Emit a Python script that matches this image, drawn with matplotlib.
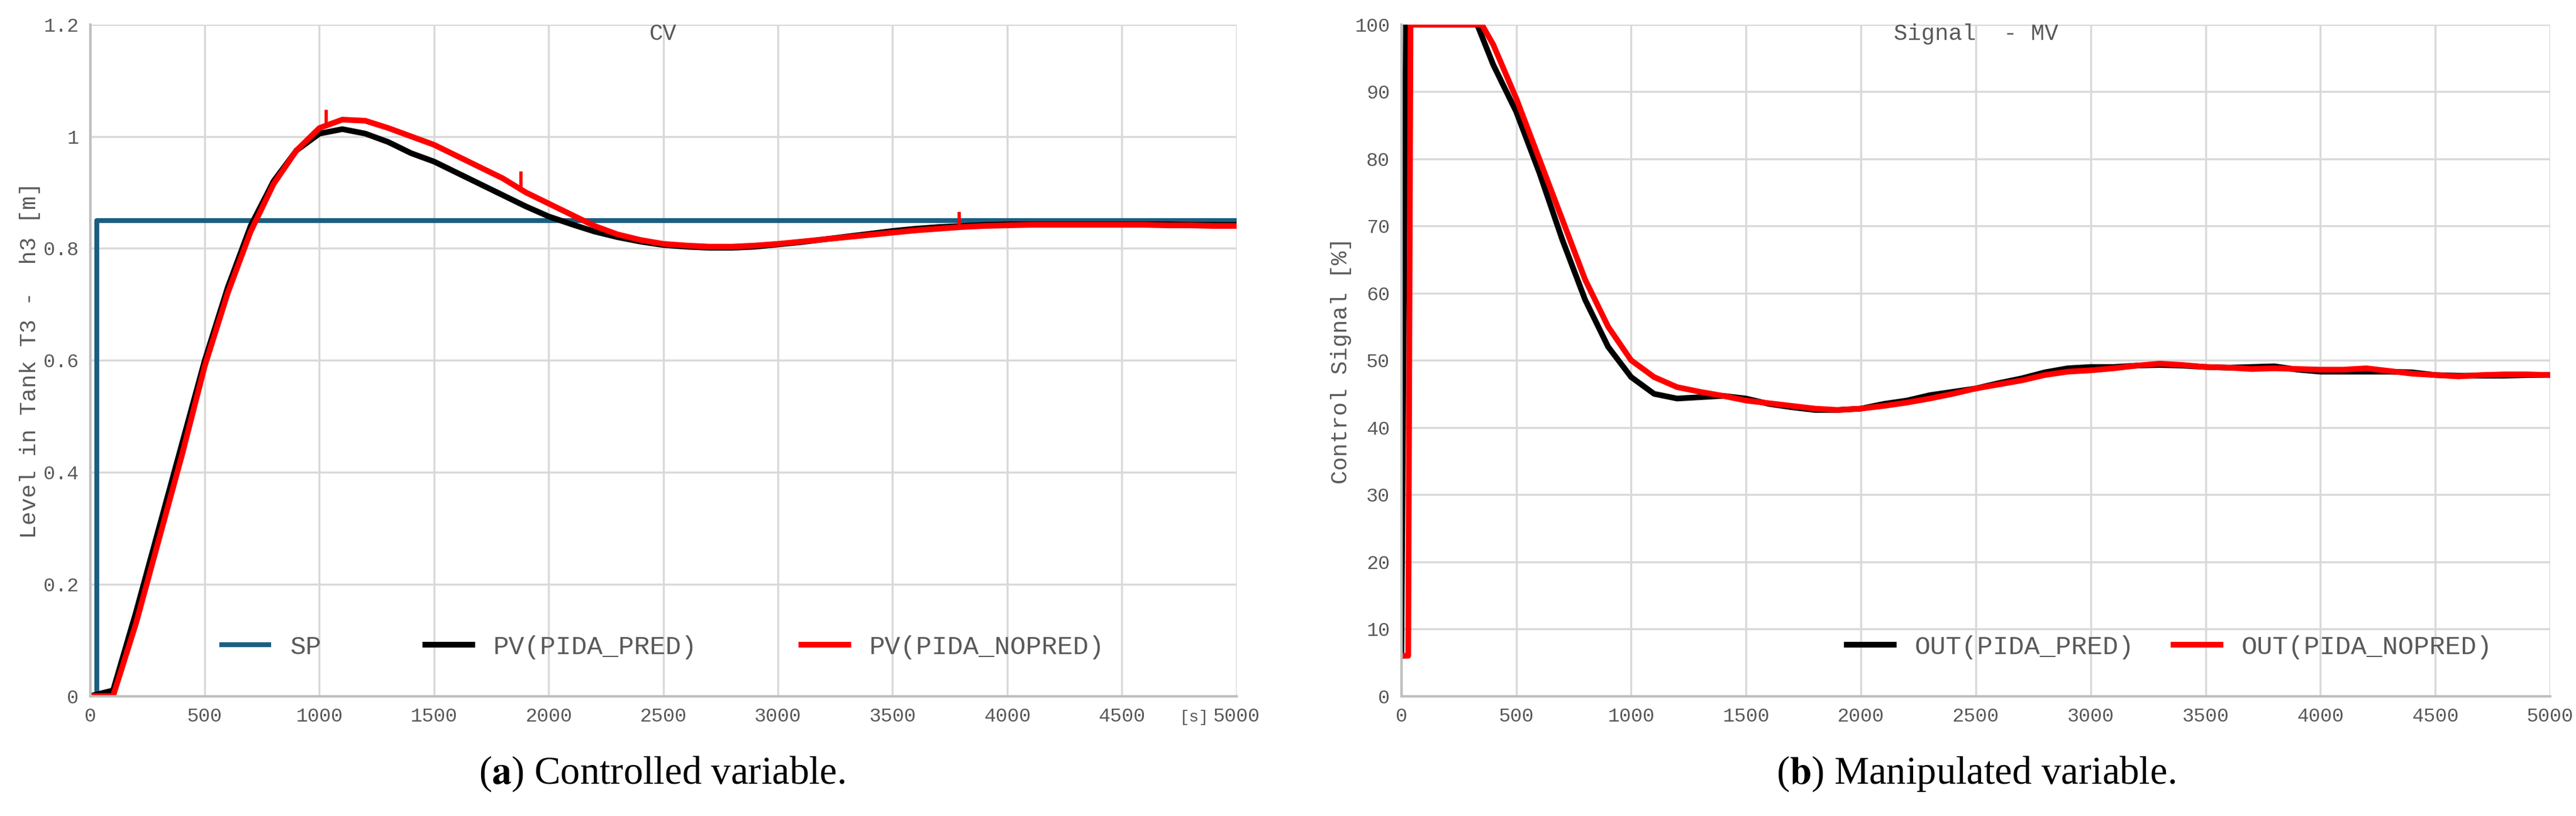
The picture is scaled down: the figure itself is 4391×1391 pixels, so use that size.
import matplotlib.pyplot as plt
import numpy as np

# time axis [s]
t = list(range(0, 5001, 100))

sp_t = [0, 30, 30, 5000]
sp_v = [0, 0, 0.85, 0.85]

pv_pred = [0.0, 0.01, 0.15, 0.30, 0.45, 0.60, 0.73, 0.84, 0.92, 0.975, 1.005, 1.013, 1.005, 0.99, 0.97,
           0.955, 0.935, 0.915, 0.895, 0.875, 0.857, 0.843, 0.830, 0.820, 0.812, 0.806, 0.803, 0.801, 0.801,
           0.803, 0.807, 0.811, 0.816, 0.821, 0.826, 0.831, 0.835, 0.838, 0.840, 0.842, 0.843, 0.843, 0.843,
           0.843, 0.843, 0.843, 0.843, 0.843, 0.842, 0.842, 0.842]
pv_nopred = [0.0, 0.0, 0.13, 0.28, 0.43, 0.59, 0.72, 0.83, 0.915, 0.975, 1.015, 1.03, 1.028, 1.015, 1.0,
             0.985, 0.965, 0.945, 0.925, 0.90, 0.88, 0.86, 0.84, 0.825, 0.815, 0.808, 0.805, 0.803, 0.803,
             0.805, 0.808, 0.812, 0.816, 0.82, 0.824, 0.828, 0.832, 0.835, 0.838, 0.840, 0.841, 0.842, 0.842,
             0.842, 0.842, 0.842, 0.842, 0.841, 0.841, 0.840, 0.840]
# spikes in the red trace
spike_t = [1030, 1880, 3790]
spike_v = [1.045, 0.935, 0.862]

mv_t = [0, 20, 30, 330] + list(range(400, 5001, 100))
mv_pred = [6, 100, 100, 100, 94, 87, 78, 68, 59, 52, 47.5, 45, 44.3, 44.5, 44.7, 44.3, 43.5, 43, 42.6, 42.6,
           42.8, 43.5, 44, 44.8, 45.3, 45.8, 46.6, 47.3, 48.2, 48.8, 49, 49, 49.2, 49.3, 49.2, 49, 48.9, 49,
           49.1, 48.6, 48.3, 48.3, 48.3, 48.3, 48.2, 47.8, 47.7, 47.7, 47.7, 47.8, 47.8]
mv_t2 = [0, 30, 40, 350] + list(range(400, 5001, 100))
mv_nopred = [6, 6, 100, 100, 97, 89, 80, 71, 62, 55, 50, 47.5, 46, 45.3, 44.7, 44, 43.6, 43.2, 42.8, 42.6,
             42.8, 43.2, 43.7, 44.3, 45, 45.8, 46.4, 47, 47.8, 48.3, 48.5, 48.8, 49.2, 49.5, 49.3, 49, 48.9,
             48.7, 48.8, 48.7, 48.6, 48.6, 48.8, 48.4, 48, 47.8, 47.6, 47.8, 47.9, 47.9, 47.8]

plt.rcParams['mathtext.fontset'] = 'stix'
mono = 'Liberation Mono'
gray = '#595959'
fig = plt.figure(figsize=(43.91, 13.91), dpi=100)
ax1 = fig.add_axes([0.035, 0.147, 0.445, 0.823])
ax2 = fig.add_axes([0.544, 0.147, 0.446, 0.823])

def style(ax, ylim, yticks):
    ax.set_xlim(0, 5000)
    ax.set_ylim(*ylim)
    ax.set_xticks(range(0, 5001, 500))
    ax.set_yticks(yticks)
    ax.grid(True, color='#d9d9d9', lw=2.5)
    ax.set_axisbelow(True)
    for s in ['top', 'right']:
        ax.spines[s].set_visible(False)
    for s in ['left', 'bottom']:
        ax.spines[s].set_color('#bfbfbf')
        ax.spines[s].set_linewidth(3)
    ax.tick_params(length=0, labelsize=24, labelcolor=gray, pad=14)
    for lb in ax.get_xticklabels() + ax.get_yticklabels():
        lb.set_family(mono)

style(ax1, (0, 1.2), [0, 0.2, 0.4, 0.6, 0.8, 1, 1.2])
ax1.set_yticklabels(['0', '0.2', '0.4', '0.6', '0.8', '1', '1.2'], family=mono)
ax1.plot(sp_t, sp_v, color='#1b5e80', lw=6, label='SP')
ax1.plot(t, pv_pred, color='black', lw=7, label='PV(PIDA_PRED)')
ax1.plot(t, pv_nopred, color='red', lw=7, label='PV(PIDA_NOPRED)')
for st, sv in zip(spike_t, spike_v):
    ax1.plot([st, st], [np.interp(st, t, pv_nopred), sv], color='red', lw=4)
ax1.set_ylabel('Level in Tank T3 -  h3 [m]', family=mono, fontsize=28, color=gray)
ax1.set_title('CV', family=mono, fontsize=28, color=gray, y=0.97)
ax1.text(4880, -0.025, '[s]', family=mono, fontsize=20, color=gray, ha='right', va='top')
ax1.legend(loc='lower center', bbox_to_anchor=(0.5, 0.02), ncol=3, frameon=False,
           prop={'family': mono, 'size': 32}, labelcolor=gray, columnspacing=4, handlelength=1.8)

style(ax2, (0, 100), range(0, 101, 10))
ax2.plot(mv_t, mv_pred, color='black', lw=7, label='OUT(PIDA_PRED)')
ax2.plot(mv_t2, mv_nopred, color='red', lw=7, label='OUT(PIDA_NOPRED)')
ax2.set_ylabel('Control Signal [%]', family=mono, fontsize=28, color=gray)
ax2.set_title('Signal  - MV', family=mono, fontsize=28, color=gray, y=0.97)
ax2.legend(loc='lower right', bbox_to_anchor=(0.97, 0.02), ncol=2, frameon=False,
           prop={'family': mono, 'size': 32}, labelcolor=gray, columnspacing=1.5, handlelength=1.8)

fig.text(0.257, 0.04, r'($\mathbf{a}$) Controlled variable.', family='Liberation Serif', fontsize=48, ha='center')
fig.text(0.767, 0.04, r'($\mathbf{b}$) Manipulated variable.', family='Liberation Serif', fontsize=48, ha='center')

fig.savefig('out.png', dpi=100)
